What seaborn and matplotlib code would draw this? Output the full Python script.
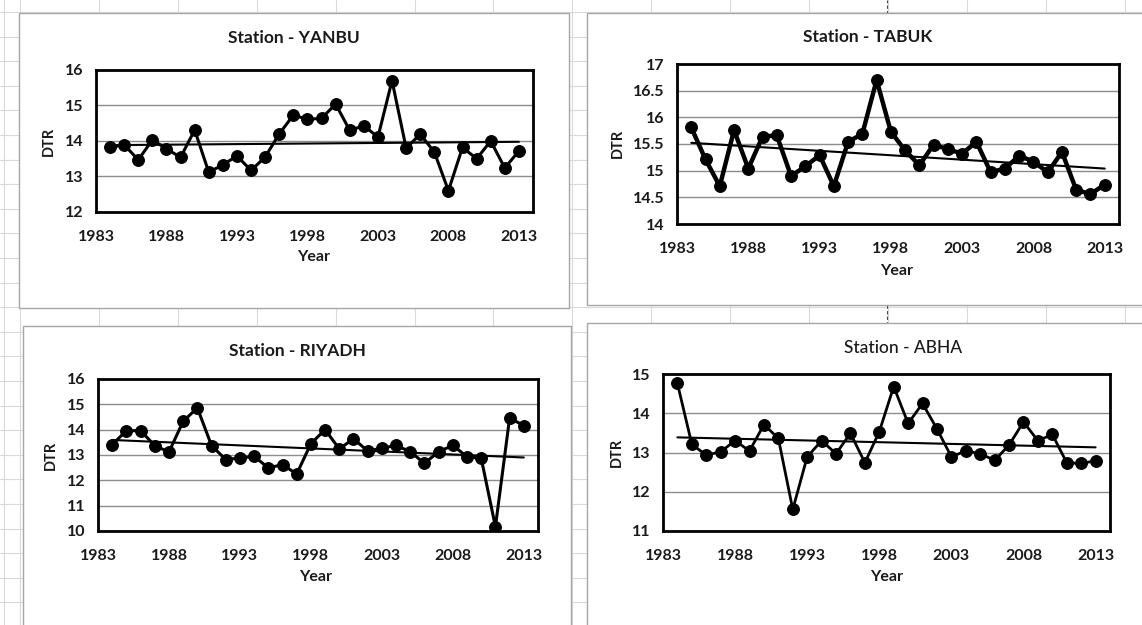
import numpy as np
import matplotlib
matplotlib.use('Agg')
import matplotlib.pyplot as plt
from matplotlib.patches import Rectangle
import seaborn as sns

# DTR per station, 1984-2013
years = list(range(1984, 2014))

yanbu = [13.82, 13.89, 13.47, 14.03, 13.78, 13.54, 14.31, 13.12, 13.33, 13.58,
         13.17, 13.55, 14.20, 14.73, 14.61, 14.64, 15.04, 14.30, 14.43, 14.11,
         15.70, 13.80, 14.19, 13.69, 12.60, 13.82, 13.50, 14.00, 13.24, 13.72]
tabuk = [15.81, 15.21, 14.71, 15.76, 15.04, 15.64, 15.66, 14.90, 15.08, 15.29,
         14.71, 15.54, 15.69, 16.70, 15.73, 15.38, 15.10, 15.49, 15.40, 15.32,
         15.54, 14.97, 15.04, 15.28, 15.17, 14.97, 15.35, 14.64, 14.56, 14.74]
riyadh = [13.41, 13.96, 13.96, 13.37, 13.12, 14.33, 14.86, 13.37, 12.82, 12.88,
          12.95, 12.49, 12.62, 12.25, 13.45, 14.00, 13.24, 13.64, 13.16, 13.27,
          13.38, 13.13, 12.67, 13.13, 13.38, 12.93, 12.87, 10.17, 14.46, 14.16]
abha = [14.76, 13.21, 12.93, 13.02, 13.30, 13.04, 13.71, 13.36, 11.55, 12.89,
        13.30, 12.97, 13.49, 12.74, 13.53, 14.68, 13.74, 14.25, 13.60, 12.89,
        13.04, 12.97, 12.80, 13.19, 13.78, 13.30, 13.46, 12.74, 12.72, 12.79]

titles = ['Station - YANBU', 'Station - TABUK', 'Station - RIYADH', 'Station - ABHA']
series = [yanbu, tabuk, riyadh, abha]
y_ranges = [(12, 16, 1), (14, 17, 0.5), (10, 16, 1), (11, 15, 1)]
x_ticks = list(range(1983, 2014, 5))

W, H = 1142, 625

# pixel layout: chart frame, plot box, title pos, DTR pos, Year pos
layout = [
    dict(frame=(19, 13, 569, 308), plot=(96, 70, 533, 212), title=(294, 38), ylab=(50, 141), xlab=(314, 258), lw=2.2),
    dict(frame=(587, 13, 1150, 305), plot=(677, 64, 1119, 224), title=(868, 37), ylab=(619, 143), xlab=(897, 272), lw=3.2),
    dict(frame=(23, 326, 571, 640), plot=(98, 379, 538, 531), title=(297, 351), ylab=(52, 455), xlab=(316, 578), lw=2.2),
    dict(frame=(587, 323, 1150, 640), plot=(663, 374, 1110, 531), title=(903, 348), ylab=(618, 452), xlab=(887, 578), lw=2.0),
]


def fig_rect(x0, y0, x1, y1):
    return [x0 / W, 1 - y1 / H, (x1 - x0) / W, (y1 - y0) / H]


def main():
    sns.set_style('white')
    plt.rcParams['font.family'] = ['Lato', 'DejaVu Sans']

    fig = plt.figure(figsize=(W / 100, H / 100), dpi=100)

    # spreadsheet cells behind the charts
    bg = fig.add_axes([0, 0, 1, 1])
    bg.set_xlim(0, W)
    bg.set_ylim(H, 0)
    bg.axis('off')
    for y in np.arange(12, H, 24.6):
        bg.axhline(y, color='#d9d9d9', lw=0.8, zorder=1)
    for x in [4] + list(np.arange(20, W, 78.9)):
        bg.axvline(x, color='#d9d9d9', lw=0.8, zorder=1)
    bg.axvline(887, color='#444444', lw=0.8, ls=(0, (3, 2)), zorder=1)

    for i, (name, vals) in enumerate(zip(titles, series)):
        lay = layout[i]
        fx0, fy0, fx1, fy1 = lay['frame']
        bg.add_patch(Rectangle((fx0, fy0), fx1 - fx0, fy1 - fy0, facecolor='white',
                               edgecolor='#a6a6a6', lw=1, zorder=5))
        px0, py0, px1, py1 = lay['plot']
        ax = fig.add_axes(fig_rect(px0, py0, px1, py1))

        sns.lineplot(x=years, y=vals, ax=ax, color='black', lw=lay['lw'],
                     marker='o', markersize=8.5, markeredgecolor='black', zorder=3)
        sns.regplot(x=years, y=vals, ax=ax, scatter=False, ci=None, truncate=True,
                    color='black', line_kws={'lw': 1.5, 'zorder': 2})

        lo, hi, step = y_ranges[i]
        ax.set_xlim(1983, 2014)
        ax.set_ylim(lo, hi)
        ax.set_xticks(x_ticks)
        yt = np.arange(lo, hi + step / 2, step)
        ax.set_yticks(yt)
        ax.set_yticklabels(['{:g}'.format(v) for v in yt])
        ax.yaxis.grid(True, color='#8c8c8c', lw=1)
        ax.xaxis.grid(False)
        ax.set_axisbelow(True)
        for sp in ax.spines.values():
            sp.set_color('black')
            sp.set_linewidth(2)

        ax.tick_params(axis='x', direction='in', length=5, width=1.5, color='black',
                       pad=13, labelsize=11.5)
        ax.tick_params(axis='y', length=0, pad=9, labelsize=11.5)
        for lab in ax.get_xticklabels() + ax.get_yticklabels():
            lab.set_fontweight('bold')
            lab.set_color('#1a1a1a')

        pw, ph = px1 - px0, py1 - py0
        ax.set_ylabel('DTR', fontsize=10.5, fontweight='bold', color='#1a1a1a')
        ax.yaxis.set_label_coords((lay['ylab'][0] + 6 - px0) / pw, (py1 - lay['ylab'][1]) / ph)
        ax.set_xlabel('Year', fontsize=11.5, fontweight='bold', color='#1a1a1a')
        ax.xaxis.set_label_coords((lay['xlab'][0] - px0) / pw, (py1 - lay['xlab'][1] + 8) / ph)

        tx, ty = lay['title']
        fig.text(tx / W, 1 - ty / H, name, ha='center', va='center', fontsize=12.5,
                 fontweight='bold' if i < 3 else 'medium', color='#1a1a1a')

    fig.savefig('out.png', dpi=100)


if __name__ == '__main__':
    main()
